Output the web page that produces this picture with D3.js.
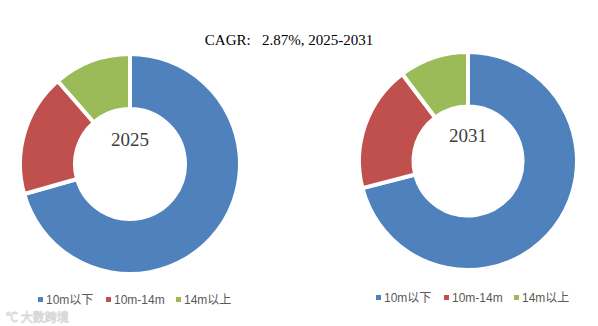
<!DOCTYPE html>
<html>
<head>
<meta charset="utf-8">
<script src="https://cdn.jsdelivr.net/npm/d3@7/dist/d3.min.js"></script>
<style>
  html, body { margin: 0; padding: 0; background: #fff; }
  svg { display: block; }
</style>
</head>
<body>
<svg id="chart" width="598" height="326"></svg>
<script>
// Market share by vessel length, two snapshot years
const categories = ["10m以下", "10m-14m", "14m以上"];
const years = ["2025", "2031"];
const share2025 = [70.6, 18.0, 11.4];
const share2031 = [71.0, 18.7, 10.3];
const colors = ["#4F81BD", "#C0504D", "#9BBB59"];
const titleText = "CAGR:   2.87%, 2025-2031";

const svg = d3.select("#chart");

const color = d3.scaleOrdinal().domain(categories).range(colors);

svg.append("text")
  .attr("x", 289).attr("y", 45)
  .attr("text-anchor", "middle")
  .attr("font-family", "'Liberation Serif', 'DejaVu Serif', serif")
  .attr("font-size", 15)
  .attr("fill", "#000")
  .style("white-space", "pre")
  .text(titleText);

const panels = [
  { year: years[0], values: share2025, cx: 130, cy: 164, r: 110, labelY: 146, legendX: 38, legendY: 300 },
  { year: years[1], values: share2031, cx: 468, cy: 161, r: 109, labelY: 142, legendX: 376, legendY: 298 }
];

const pie = d3.pie().sort(null).value(d => d.v);

panels.forEach(p => {
  const g = svg.append("g").attr("transform", `translate(${p.cx},${p.cy})`);
  const arc = d3.arc().innerRadius(p.r * 0.5).outerRadius(p.r);
  const data = categories.map((c, i) => ({ c, v: p.values[i] }));

  g.selectAll("path")
    .data(pie(data))
    .join("path")
    .attr("d", arc)
    .attr("fill", d => color(d.data.c))
    .attr("stroke", "#fff")
    .attr("stroke-width", 4)
    .attr("stroke-linejoin", "miter");

  g.append("text")
    .attr("x", 0).attr("y", p.labelY - p.cy)
    .attr("text-anchor", "middle")
    .attr("font-family", "'Liberation Serif', 'DejaVu Serif', serif")
    .attr("font-size", 19)
    .attr("fill", "#404040")
    .text(p.year);

  // legend row
  const lg = svg.append("g").attr("transform", `translate(${p.legendX},${p.legendY})`);
  const offsets = [0, 68, 138];
  categories.forEach((c, i) => {
    const item = lg.append("g").attr("transform", `translate(${offsets[i]},0)`);
    item.append("rect")
      .attr("x", 0).attr("y", -3).attr("width", 5).attr("height", 5)
      .attr("fill", color(c));
    item.append("text")
      .attr("x", 8).attr("y", 4)
      .attr("font-family", "'Liberation Sans', 'Noto Sans CJK SC', sans-serif")
      .attr("font-size", 12)
      .attr("fill", "#595959")
      .text(c);
  });
});

// faint brand mark in the corner
svg.append("text")
  .attr("x", 6).attr("y", 322)
  .attr("font-family", "'Noto Sans CJK SC', sans-serif")
  .attr("font-size", 12)
  .attr("fill", "#fff")
  .attr("stroke", "#d8d8d8")
  .attr("stroke-width", 0.8)
  .text("℃ 大数跨境");
</script>
</body>
</html>
